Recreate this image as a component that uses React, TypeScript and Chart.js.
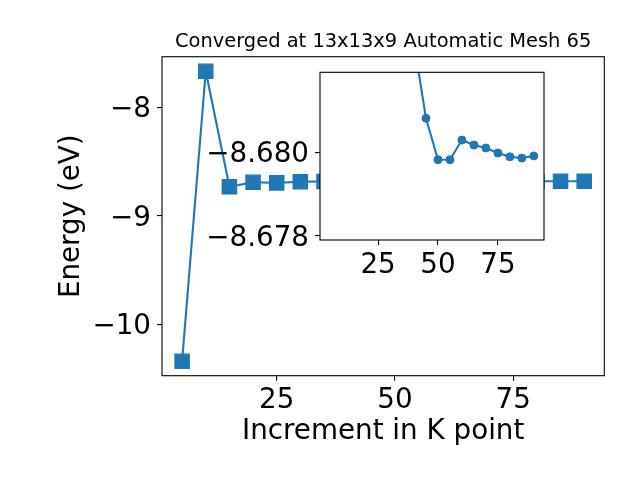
import React, { useEffect, useRef } from "react";
import { Chart, registerables } from "chart.js";

Chart.register(...registerables);

// ---- data ----
const kPoints = [5, 10, 15, 20, 25, 30, 35, 40, 45, 50, 55, 60, 65, 70, 75, 80, 85, 90];
const energies = [
  -10.339, -7.666, -8.7315, -8.689, -8.695, -8.6855, -8.6825, -8.6826, -8.68081,
  -8.67982, -8.67982, -8.68029, -8.68017, -8.6801, -8.67998, -8.67989, -8.67986, -8.67991,
];
const insetKPoints = [40, 45, 50, 55, 60, 65, 70, 75, 80, 85, 90];
const insetEnergies = [
  -8.6826, -8.68081, -8.67982, -8.67982, -8.68029, -8.68017, -8.6801, -8.67998, -8.67989,
  -8.67986, -8.67991,
];
const xTickValues = [25, 50, 75];
const xTickLabels = ["25", "50", "75"];
const yTickValues = [-10, -9, -8];
const yTickLabels = ["\u221210", "\u22129", "\u22128"];
const insetYTickValues = [-8.68, -8.678];
const insetYTickLabels = ["\u22128.680", "\u22128.678"];
const titleText = "Converged at 13x13x9 Automatic Mesh 65";
const xTitle = "Increment in K point";
const yTitle = "Energy (eV)";
const insetYMin = -8.68191;
const insetYMax = -8.6779;
const xMin = 0.75;
const xMax = 94.25;

const BLUE = "#1f77b4";
const FONT = "'DejaVu Sans', sans-serif";
const TICK_SIZE = 27.78;

const framePlugin = (fill: boolean) => ({
  id: "frame" + (fill ? "Fill" : ""),
  beforeDraw(chart: any) {
    if (!fill) return;
    const { ctx, chartArea: a } = chart;
    ctx.save();
    ctx.fillStyle = "#ffffff";
    ctx.fillRect(a.left, a.top, a.right - a.left, a.bottom - a.top);
    ctx.restore();
  },
  afterDraw(chart: any) {
    const { ctx, chartArea: a } = chart;
    ctx.save();
    ctx.strokeStyle = "#000000";
    ctx.lineWidth = 1.1;
    ctx.strokeRect(a.left, a.top, a.right - a.left, a.bottom - a.top);
    ctx.restore();
  },
});

function tickAxis(values: number[], labels: string[], extra: any) {
  return {
    type: "linear",
    afterBuildTicks: (axis: any) => {
      axis.ticks = values.map((v) => ({ value: v }));
    },
    ticks: {
      autoSkip: false,
      maxRotation: 0,
      minRotation: 0,
      color: "#000000",
      font: { family: FONT, size: TICK_SIZE },
      callback: (_v: any, i: number) => labels[i],
      padding: 6,
    },
    grid: {
      display: true,
      drawOnChartArea: false,
      drawTicks: true,
      tickLength: 5,
      color: "#000000",
      lineWidth: 1.1,
    },
    border: { display: false },
    ...extra,
  };
}

export default function App() {
  const mainRef = useRef<HTMLCanvasElement>(null);
  const insetRef = useRef<HTMLCanvasElement>(null);

  useEffect(() => {
    document.body.style.margin = "0";
    const mn = Math.min(...energies);
    const mx = Math.max(...energies);
    const pad = (mx - mn) * 0.05;

    const xMain: any = tickAxis(xTickValues, xTickLabels, {
      min: xMin,
      max: xMax,
      afterFit: (s: any) => {
        s.height = 104.3;
      },
      title: {
        display: true,
        text: xTitle,
        color: "#000000",
        font: { family: FONT, size: TICK_SIZE },
        padding: { top: 0, bottom: 31.5 },
      },
    });
    xMain.ticks.padding = 3.5;

    const yMain: any = tickAxis(yTickValues, yTickLabels, {
      min: mn - pad,
      max: mx + pad,
      afterFit: (s: any) => {
        s.width = 162;
      },
      title: {
        display: true,
        text: yTitle,
        color: "#000000",
        font: { family: FONT, size: TICK_SIZE },
        padding: { top: 55, bottom: 0 },
      },
    });
    yMain.ticks.labelOffset = 2.5;

    const main = new Chart(mainRef.current as HTMLCanvasElement, {
      type: "line",
      data: {
        datasets: [
          {
            data: kPoints.map((k, i) => ({ x: k, y: energies[i] })),
            borderColor: BLUE,
            backgroundColor: BLUE,
            borderWidth: 2.1,
            pointStyle: "rect",
            pointRadius: 10,
            pointBorderWidth: 1.4,
            pointBackgroundColor: BLUE,
            pointBorderColor: BLUE,
            tension: 0,
          },
        ],
      },
      options: {
        responsive: false,
        animation: false,
        events: [],
        layout: { padding: { left: 0, right: 35.7, top: 30, bottom: 0 } },
        plugins: {
          legend: { display: false },
          tooltip: { enabled: false },
          title: {
            display: true,
            text: titleText,
            fullSize: false,
            color: "#000000",
            font: { family: FONT, size: 19.44, weight: "normal" },
            padding: { top: 0, bottom: 3.4 },
          },
        },
        scales: { x: xMain, y: yMain },
      } as any,
      plugins: [framePlugin(false)],
    });

    const xInset: any = tickAxis(xTickValues, xTickLabels, {
      min: xMin,
      max: xMax,
      afterFit: (s: any) => {
        s.height = 240;
      },
    });
    xInset.ticks.padding = 4;
    const yInset: any = tickAxis(insetYTickValues, insetYTickLabels, {
      min: insetYMin,
      max: insetYMax,
      reverse: true,
      afterFit: (s: any) => {
        s.width = 320;
      },
    });
    yInset.ticks.labelOffset = 2.5;

    const inset = new Chart(insetRef.current as HTMLCanvasElement, {
      type: "line",
      data: {
        datasets: [
          {
            data: insetKPoints.map((k, i) => ({ x: k, y: insetEnergies[i] })),
            borderColor: BLUE,
            backgroundColor: BLUE,
            borderWidth: 2.1,
            pointStyle: "circle",
            pointRadius: 4,
            pointBorderWidth: 1,
            pointBackgroundColor: BLUE,
            pointBorderColor: BLUE,
            tension: 0,
          },
        ],
      },
      options: {
        responsive: false,
        animation: false,
        events: [],
        layout: { padding: { left: 0, right: 96, top: 72.3, bottom: 0 } },
        plugins: {
          legend: { display: false },
          tooltip: { enabled: false },
          title: { display: false },
        },
        scales: { x: xInset, y: yInset },
      } as any,
      plugins: [framePlugin(true)],
    });

    return () => {
      main.destroy();
      inset.destroy();
    };
  }, []);

  const canvasStyle: React.CSSProperties = {
    position: "absolute",
    left: 0,
    top: 0,
    display: "block",
  };

  return (
    <div
      style={{
        position: "fixed",
        left: 0,
        top: 0,
        width: 640,
        height: 480,
        background: "#ffffff",
      }}
    >
      <canvas ref={mainRef} width={640} height={480} style={canvasStyle} />
      <canvas ref={insetRef} width={640} height={480} style={canvasStyle} />
    </div>
  );
}
